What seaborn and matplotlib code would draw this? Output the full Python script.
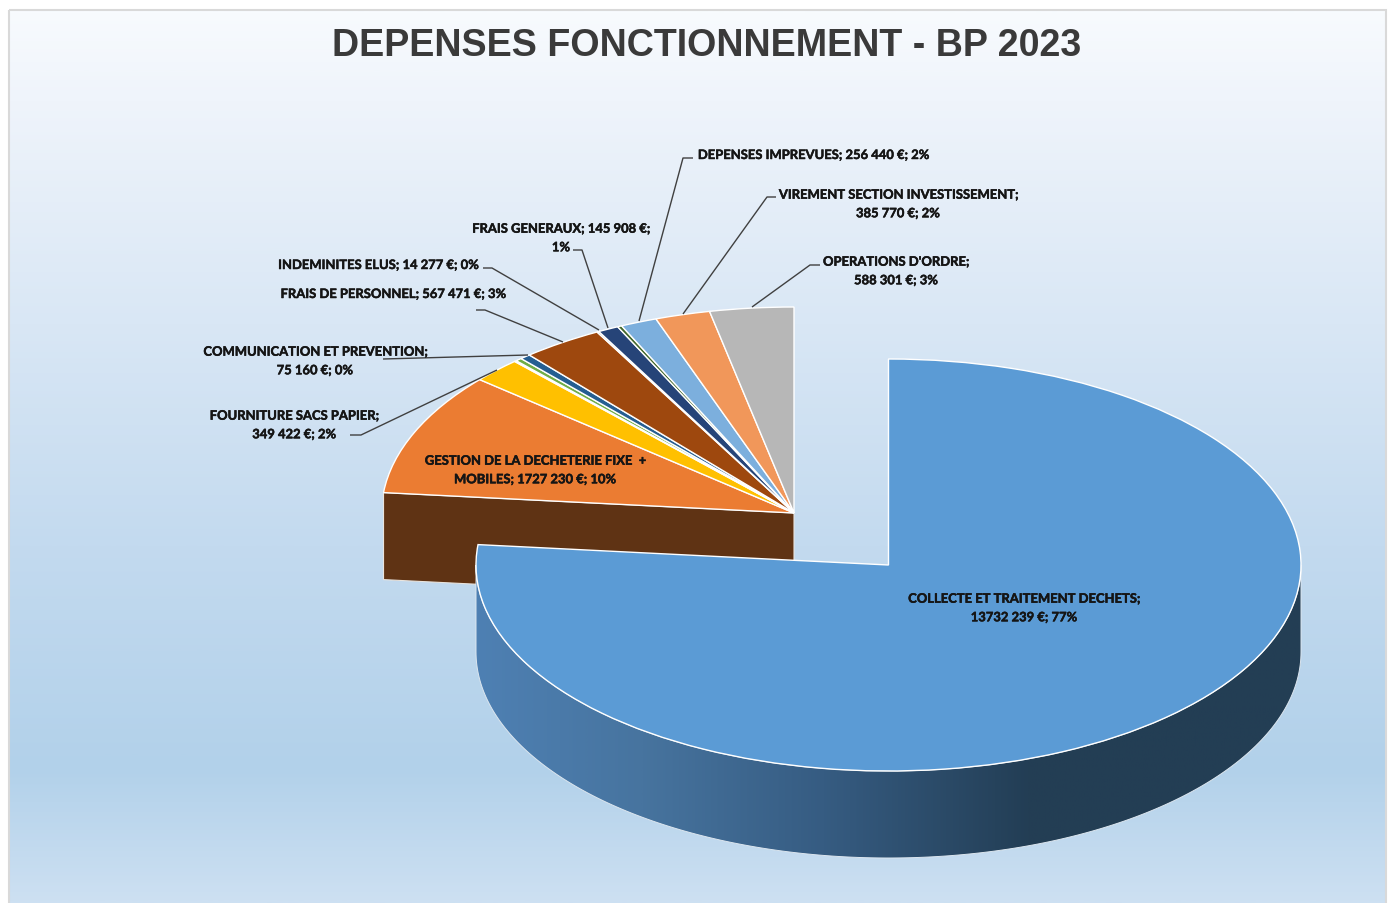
import numpy as np
import matplotlib
matplotlib.use("Agg")
import matplotlib.pyplot as plt
import matplotlib.patheffects as pe
import seaborn as sns
from matplotlib.colors import LinearSegmentedColormap
from matplotlib.patches import PathPatch, Polygon, Rectangle
from matplotlib.path import Path

# ---- data -------------------------------------------------------------
SLICE_NAMES = [
    "COLLECTE ET TRAITEMENT DECHETS", "GESTION DE LA DECHETERIE FIXE + MOBILES",
    "FOURNITURE SACS PAPIER", "(non etiquete 1)", "(non etiquete 2)",
    "COMMUNICATION ET PREVENTION", "FRAIS DE PERSONNEL", "INDEMINITES ELUS",
    "FRAIS GENERAUX", "(non etiquete 3)", "DEPENSES IMPREVUES",
    "VIREMENT SECTION INVESTISSEMENT", "OPERATIONS D'ORDRE",
]
SLICE_VALUES = [13732239, 1727230, 349422, 15000, 45000, 75160, 567471, 14277,
                145908, 30000, 256440, 385770, 588301]
SLICE_COLORS = ["#5B9BD5", "#EB7C32", "#FFC000", "#4472C4", "#70AD47", "#255E91",
                "#9E480E", "#636363", "#264478", "#43682B", "#7CAFDD", "#F1975A",
                "#B7B7B7"]

TITLE = "DEPENSES FONCTIONNEMENT - BP 2023"
LABEL_TEXTS = [
    "COLLECTE ET TRAITEMENT DECHETS;\n13732 239 €; 77%",
    "GESTION DE LA DECHETERIE FIXE  +\nMOBILES; 1727 230 €; 10%",
    "FOURNITURE SACS PAPIER;\n349 422 €; 2%",
    "COMMUNICATION ET PREVENTION;\n75 160 €; 0%",
    "FRAIS DE PERSONNEL; 567 471 €; 3%",
    "INDEMINITES ELUS; 14 277 €; 0%",
    "FRAIS GENERAUX; 145 908 €;\n1%",
    "DEPENSES IMPREVUES; 256 440 €; 2%",
    "VIREMENT SECTION INVESTISSEMENT;\n385 770 €; 2%",
    "OPERATIONS D'ORDRE;\n588 301 €; 3%",
]

# ---- layout (pixels of the 1392x904 picture) ---------------------------
W, H = 1392, 904
LABEL_CENTERS = [(1024, 609), (535, 471), (294, 426), (315, 362), (393, 295),
                 (378, 266), (561, 239), (813, 156), (898, 205), (896, 272)]
LEADERS = [
    [(350, 436), (361, 436), (497, 371)],
    [(383, 360), (528, 356)],
    [(476, 311), (485, 311), (563, 343)],
    [(483, 269), (492, 269), (599, 331)],
    [(573, 251), (582, 251), (608, 329)],
    [(693, 159), (683, 159), (639, 322)],
    [(776, 198), (767, 198), (683, 315)],
    [(820, 266), (810, 266), (752, 308)],
]
RX, RY, DEPTH = 412.5, 206, 87
BIG_CENTER = (888.5, 566)
SMALL_CENTER = (794, 514)
depth_u = DEPTH / RY

sns.set_theme(style="white")
plt.rcParams["font.family"] = ["Lato", "DejaVu Sans"]

fig = plt.figure(figsize=(W / 100, H / 100), dpi=100, facecolor="white")

# background panel with vertical gradient
bg = fig.add_axes([0, 0, 1, 1], zorder=0)
bg.axis("off")
stops = [(0.0, "#F8FBFE"), (0.10, "#EFF4FB"), (0.35, "#D9E7F5"), (0.60, "#C3DAEF"),
         (0.85, "#B2D1EA"), (1.0, "#CDE0F2")]
bg_cmap = LinearSegmentedColormap.from_list("bg", stops)
bg.imshow(np.linspace(0, 1, 512)[:, None], cmap=bg_cmap, aspect="auto",
          extent=(9, 1386, H, 11), vmin=0, vmax=1, zorder=0)
bg.set_xlim(0, W)
bg.set_ylim(H, 0)
bg.add_patch(Rectangle((9, 11), 1377, H, fill=False, edgecolor="#D9D9D9", lw=1.5, zorder=1))


def limit_axes(ax):
    ax.set_aspect("auto")
    ax.set_xlim(-1, 1)
    ax.set_ylim(-1 - depth_u - 2 / RY, 1)
    ax.axis("off")


def pie_axes(center, z):
    """A pie on an axes stretched to the ellipse, with room below for the wall."""
    cx, cy = center
    ax = fig.add_axes([(cx - RX) / W, 1 - (cy + RY + DEPTH + 2) / H,
                       2 * RX / W, (2 * RY + DEPTH + 2) / H], zorder=z)
    wedges, _ = ax.pie(SLICE_VALUES, colors=sns.color_palette(SLICE_COLORS, len(SLICE_COLORS)),
                       startangle=90, counterclock=False, radius=1,
                       wedgeprops=dict(edgecolor="white", linewidth=1.0, clip_on=False, zorder=3))
    limit_axes(ax)
    return ax, wedges


# group of small slices, pushed back
ax_s, w_s = pie_axes(SMALL_CENTER, 1)
w_s[0].set_visible(False)
# the wall below the cut side of the orange slice
ang = np.deg2rad(w_s[1].theta2)
px, py = np.cos(ang), np.sin(ang)
ax_s.add_patch(Polygon([(px, py), (0, 0), (0, -depth_u), (px, py - depth_u)], closed=True,
                       facecolor="#5F3314", edgecolor="#E9E4DE", lw=0.8, clip_on=False, zorder=2))

# big exploded slice
ax_b, w_b = pie_axes(BIG_CENTER, 2)
for w in w_b[1:]:
    w.set_visible(False)
t = np.deg2rad(np.linspace(0, -180, 200))
top = np.column_stack([np.cos(t), np.sin(t)])
bottom = top[::-1] + [0, -depth_u]
wall = Path(np.vstack([top, bottom, top[:1]]), closed=True)
wall_cmap = LinearSegmentedColormap.from_list(
    "wall", [(0.0, "#4E80B3"), (0.20, "#47749F"), (0.42, "#365C82"), (0.67, "#233E55"), (1.0, "#233E54")])
im = ax_b.imshow(np.linspace(0, 1, 512)[None, :], cmap=wall_cmap, aspect="auto",
                 extent=(-1, 1, -1 - depth_u, 0.02), zorder=1)
im.set_clip_path(PathPatch(wall, transform=ax_b.transData))
ax_b.add_patch(PathPatch(wall, facecolor="none", edgecolor="#DCE6EF", lw=0.7, clip_on=False, zorder=2))
limit_axes(ax_b)

# overlay: title, data labels, leader lines
ov = fig.add_axes([0, 0, 1, 1], zorder=3)
ov.set_xlim(0, W)
ov.set_ylim(H, 0)
ov.axis("off")
for pts in LEADERS:
    xs, ys = zip(*pts)
    ov.plot(xs, ys, color="#404040", lw=1.0, solid_capstyle="butt")
for txt, (x, y) in zip(LABEL_TEXTS, LABEL_CENTERS):
    ov.text(x, y, txt, ha="center", va="center", fontsize=9.35, fontweight="bold",
            color="#151515", linespacing=1.66,
            path_effects=[pe.withStroke(linewidth=0.35, foreground="#151515")])
ov.text(707, 46, TITLE, ha="center", va="center", fontsize=27.1, fontweight="bold",
        family=["Liberation Sans", "DejaVu Sans"], color="#3A3A3A")
sns.despine(ax=ov, left=True, bottom=True)

fig.savefig("out.png", dpi=100, facecolor="white")
